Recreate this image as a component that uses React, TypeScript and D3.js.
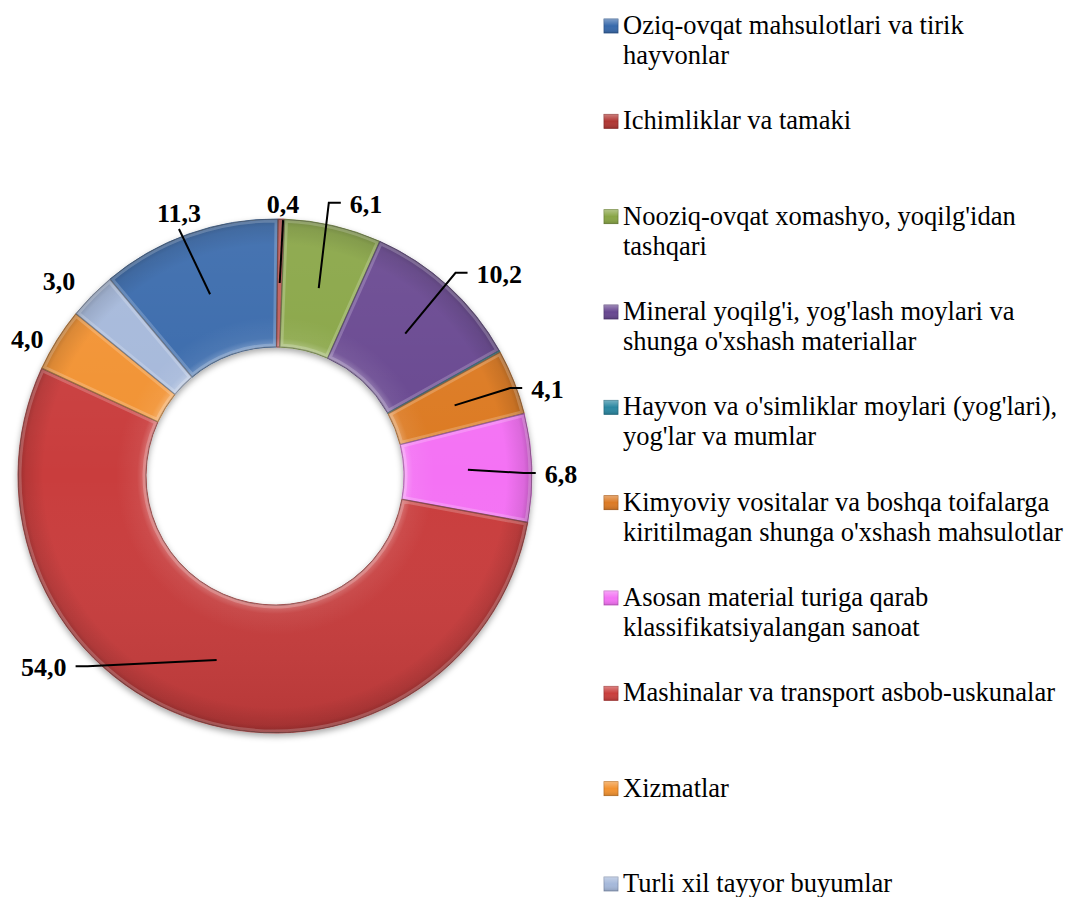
import React from "react";
import * as d3 from "d3";

// eksport tarkibi, foizda
const categories = [
  "Oziq-ovqat mahsulotlari va tirik\nhayvonlar",
  "Ichimliklar va tamaki",
  "Nooziq-ovqat xomashyo, yoqilg'idan\ntashqari",
  "Mineral yoqilg'i, yog'lash moylari va\nshunga o'xshash materiallar",
  "Hayvon va o'simliklar moylari (yog'lari),\nyog'lar va mumlar",
  "Kimyoviy vositalar va boshqa toifalarga\nkiritilmagan shunga o'xshash mahsulotlar",
  "Asosan material turiga qarab\nklassifikatsiyalangan sanoat",
  "Mashinalar va transport asbob-uskunalar",
  "Xizmatlar",
  "Turli xil tayyor buyumlar",
];
const values = [11.3, 0.4, 6.1, 10.2, 0.1, 4.1, 6.8, 54.0, 4.0, 3.0];
const colors = [
  "#3769ab",
  "#b03633",
  "#88a545",
  "#674690",
  "#2a87a1",
  "#dc7a24",
  "#f472f4",
  "#c93e3c",
  "#f29230",
  "#a5b8da",
];

// label layout: [angle from 12 o'clock in degrees, radius, leader line?]
const labelLayout: ([number, number, boolean] | null)[] = [
  [-20.06, 280, true],
  [1.7, 272, true],
  [18.5, 287, true],
  [47.96, 302, true],
  null,
  [72.3, 286, true],
  [89.6, 286, true],
  [230.4, 300, true],
  [298.9, 283, false],
  [312.1, 291, false],
];

const width = 1069;
const height = 897;
const cx = 275;
const cy = 476;
const outerR = 257;
const innerR = 129;
const firstSliceAngle = 320; // degrees, like Excel

const labelFont = "bold 26px 'Liberation Serif', 'Times New Roman', serif";
const ctx = document.createElement("canvas").getContext("2d");
const measure = (t: string) => {
  if (!ctx) return t.length * 12;
  ctx.font = labelFont;
  return ctx.measureText(t).width;
};

const fmt = (v: number) => d3.format(".1f")(v).replace(".", ",");

export default function App() {
  const rad = (deg: number) => (deg * Math.PI) / 180;
  const pie = d3
    .pie<number>()
    .sort(null)
    .value((d) => d)
    .startAngle(rad(firstSliceAngle))
    .endAngle(rad(firstSliceAngle + 360));
  const arcs = pie(values);
  const arc = d3.arc<d3.PieArcDatum<number>>().innerRadius(innerR).outerRadius(outerR);

  const legendY = d3.scaleLinear().domain([0, categories.length - 1]).range([26, 884]);

  const labels = arcs.map((a, i) => {
    const lay = labelLayout[i];
    if (!lay) return null;
    const [ang, r, leader] = lay;
    const lx = r * Math.sin(rad(ang));
    const ly = -r * Math.cos(rad(ang));
    const text = fmt(values[i]);
    const w = measure(text);
    const [px, py] = arc.centroid(a);
    let pts: [number, number][] = [];
    if (leader) {
      const left = lx - w / 2;
      const right = lx + w / 2;
      if (px >= left - 12 && px <= right + 12) {
        const sy = py > ly ? ly + 16 : ly - 16;
        pts = [
          [lx, sy],
          [px, py],
        ];
      } else if (px < left) {
        pts = [
          [left - 9, ly - 1],
          [left - 21, ly - 1],
          [px, py],
        ];
      } else {
        pts = [
          [right + 9, ly - 1],
          [right + 21, ly - 1],
          [px, py],
        ];
      }
    }
    return { text, lx, ly, pts };
  });

  return (
    <svg
      width={width}
      height={height}
      style={{ position: "absolute", left: 0, top: 0, background: "#fff" }}
      fontFamily="'Liberation Serif', 'Times New Roman', serif"
    >
      <defs>
        <radialGradient id="ringShade" gradientUnits="userSpaceOnUse" cx={0} cy={0} r={outerR}>
          <stop offset={innerR / outerR} stopColor="#fff" stopOpacity={0.3} />
          <stop offset={innerR / outerR + 0.035} stopColor="#fff" stopOpacity={0.06} />
          <stop offset={0.62} stopColor="#fff" stopOpacity={0} />
          <stop offset={0.9} stopColor="#000" stopOpacity={0} />
          <stop offset={0.97} stopColor="#000" stopOpacity={0.1} />
          <stop offset={1} stopColor="#000" stopOpacity={0.25} />
        </radialGradient>
        <linearGradient id="topLight" gradientUnits="userSpaceOnUse" x1={0} y1={-outerR} x2={0} y2={outerR}>
          <stop offset={0} stopColor="#fff" stopOpacity={0.08} />
          <stop offset={0.5} stopColor="#fff" stopOpacity={0} />
          <stop offset={1} stopColor="#000" stopOpacity={0.1} />
        </linearGradient>
        <linearGradient id="markerShade" x1={0} y1={0} x2={0} y2={1}>
          <stop offset={0} stopColor="#fff" stopOpacity={0.35} />
          <stop offset={0.5} stopColor="#fff" stopOpacity={0} />
          <stop offset={1} stopColor="#000" stopOpacity={0.15} />
        </linearGradient>
        <filter id="shadow" x="-10%" y="-10%" width="120%" height="125%">
          <feDropShadow dx={0} dy={3} stdDeviation={3} floodColor="#000" floodOpacity={0.35} />
        </filter>
        {arcs.map((a, i) => (
          <clipPath id={`slice-${i}`} key={i}>
            <path d={arc(a) || ""} />
          </clipPath>
        ))}
      </defs>

      <g transform={`translate(${cx},${cy})`}>
        <g filter="url(#shadow)">
          {arcs.map((a, i) => (
            <path
              key={i}
              d={arc(a) || ""}
              fill={colors[i]}
              stroke={d3.color(colors[i])!.darker(0.9).formatHex()}
              strokeWidth={0.8}
            />
          ))}
        </g>
        {arcs.map((a, i) => (
          <g key={i} clipPath={`url(#slice-${i})`}>
            <path d={arc(a) || ""} fill="url(#ringShade)" />
            <path d={arc(a) || ""} fill="url(#topLight)" />
            <path d={arc(a) || ""} fill="none" stroke="#fff" strokeOpacity={0.2} strokeWidth={7} />
            <path d={arc(a) || ""} fill="none" stroke="#000" strokeOpacity={0.25} strokeWidth={1.5} />
          </g>
        ))}

        {labels.map((l, i) =>
          l ? (
            <g key={i}>
              {l.pts.length > 0 && (
                <path d={d3.line()(l.pts) || ""} fill="none" stroke="#000" strokeWidth={2} />
              )}
              <text
                x={l.lx}
                y={l.ly + 9}
                textAnchor="middle"
                fontSize={26}
                fontWeight="bold"
                fill="#000"
              >
                {l.text}
              </text>
            </g>
          ) : null
        )}
      </g>

      <g>
        {categories.map((c, i) => {
          const y0 = legendY(i);
          return (
            <g key={i}>
              <rect
                x={604}
                y={y0 - 7}
                width={14}
                height={14}
                fill={colors[i]}
                stroke={d3.color(colors[i])!.darker(0.7).formatHex()}
                strokeWidth={0.8}
              />
              <rect x={604} y={y0 - 7} width={14} height={14} fill="url(#markerShade)" />
              <text x={623} y={y0 + 8} fontSize={26.5} fill="#000">
                {c.split("\n").map((line, j) => (
                  <tspan key={j} x={623} dy={j === 0 ? 0 : 30}>
                    {line}
                  </tspan>
                ))}
              </text>
            </g>
          );
        })}
      </g>
    </svg>
  );
}
